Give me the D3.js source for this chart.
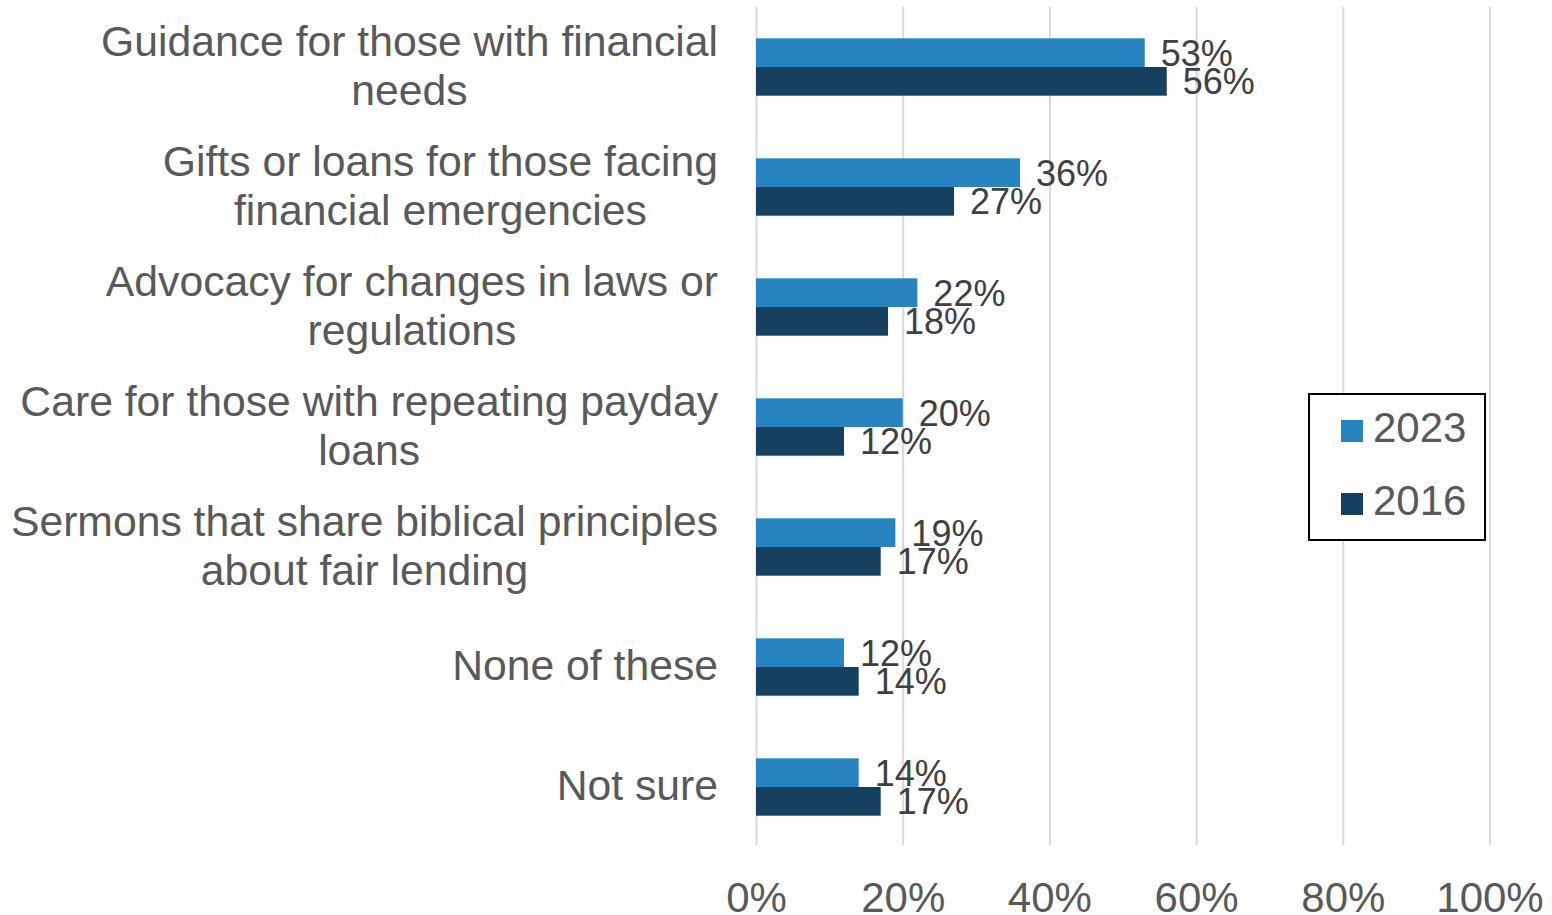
<!DOCTYPE html>
<html>
<head>
<meta charset="utf-8">
<script src="https://cdn.jsdelivr.net/npm/d3@7"></script>
<style>
  html, body { margin: 0; padding: 0; background: #fff; }
  svg { display: block; font-family: Arial, "Liberation Sans", sans-serif; }
</style>
</head>
<body>
<svg id="chart" width="1552" height="915"></svg>
<script>
// Survey responses: what churches should offer (share of respondents)
const categories = [
  "Guidance for those with financial\nneeds",
  "Gifts or loans for those facing\nfinancial emergencies",
  "Advocacy for changes in laws or\nregulations",
  "Care for those with repeating payday\nloans",
  "Sermons that share biblical principles\nabout fair lending",
  "None of these",
  "Not sure"
];
const seriesNames = ["2023", "2016"];
const values2023 = [53, 36, 22, 20, 19, 12, 14];
const values2016 = [56, 27, 18, 12, 17, 14, 17];
const xTicks = [0, 20, 40, 60, 80, 100];

const colors = { "2023": "#2784c1", "2016": "#15405f" };
const seriesValues = { "2023": values2023, "2016": values2016 };

const svg = d3.select("#chart");

const plot = { left: 756, right: 1489.5, top: 7, bottom: 845 };

const x = d3.scaleLinear().domain([0, 100]).range([plot.left, plot.right]);

const y = d3.scaleBand()
  .domain(categories)
  .range([plot.top, plot.top + 840])
  .paddingInner(0.522)
  .paddingOuter(0.261);

const ySub = d3.scaleBand().domain(seriesNames).range([0, y.bandwidth()]);

// Vertical gridlines and percentage labels
const xAxis = d3.axisBottom(x)
  .tickValues(xTicks)
  .tickFormat(d => d + "%")
  .tickSize(-(plot.bottom - plot.top))
  .tickPadding(37);

const gx = svg.append("g")
  .attr("transform", `translate(0,${plot.bottom})`)
  .call(xAxis);
gx.select(".domain").remove();
gx.selectAll(".tick line").attr("stroke", "#d9d9d9").attr("stroke-width", 2);
gx.selectAll(".tick text")
  .attr("font-size", 42)
  .attr("fill", "#595959")
  .attr("font-family", "Arial, 'Liberation Sans', sans-serif");

// Bars
const rows = categories.map((c, i) => ({ cat: c, i }));
const groups = svg.append("g").selectAll("g")
  .data(rows)
  .join("g")
  .attr("transform", d => `translate(0,${y(d.cat)})`);

groups.selectAll("rect")
  .data(d => seriesNames.map(s => ({ s, v: seriesValues[s][d.i] })))
  .join("rect")
  .attr("x", x(0))
  .attr("y", d => ySub(d.s))
  .attr("width", d => x(d.v) - x(0))
  .attr("height", ySub.bandwidth())
  .attr("fill", d => colors[d.s]);

// Value labels
groups.selectAll("text.value")
  .data(d => seriesNames.map(s => ({ s, v: seriesValues[s][d.i] })))
  .join("text")
  .attr("class", "value")
  .attr("x", d => x(d.v) + 16)
  .attr("y", d => ySub(d.s) + ySub.bandwidth() / 2 + 13)
  .attr("font-size", 36)
  .attr("fill", "#404040")
  .text(d => d.v + "%");

// Category labels: lines centred within a block whose right edge is fixed
const labelRight = 718;
const lineHeight = 49;
const catFont = 42.7;
const gy = svg.append("g");
categories.forEach(cat => {
  const lines = cat.split("\n");
  const cy = y(cat) + y.bandwidth() / 2;
  const t = gy.append("text")
    .attr("font-size", catFont)
    .attr("fill", "#595959")
    .attr("text-anchor", "middle");
  const spans = lines.map((ln, k) =>
    t.append("tspan")
      .attr("y", cy + (k - (lines.length - 1) / 2) * lineHeight + 13)
      .text(ln));
  const w = d3.max(spans, s => s.node().getComputedTextLength());
  spans.forEach(s => s.attr("x", labelRight - w / 2));
});

// Legend
const lg = svg.append("g");
lg.append("rect")
  .attr("x", 1309).attr("y", 394)
  .attr("width", 176).attr("height", 146)
  .attr("fill", "#fff")
  .attr("stroke", "#000")
  .attr("stroke-width", 2);
seriesNames.forEach((s, k) => {
  const top = 420 + k * 73;
  lg.append("rect")
    .attr("x", 1341).attr("y", top)
    .attr("width", 22).attr("height", 22)
    .attr("fill", colors[s]);
  lg.append("text")
    .attr("x", 1373).attr("y", top + 22)
    .attr("font-size", 42)
    .attr("fill", "#595959")
    .text(s);
});
</script>
</body>
</html>
